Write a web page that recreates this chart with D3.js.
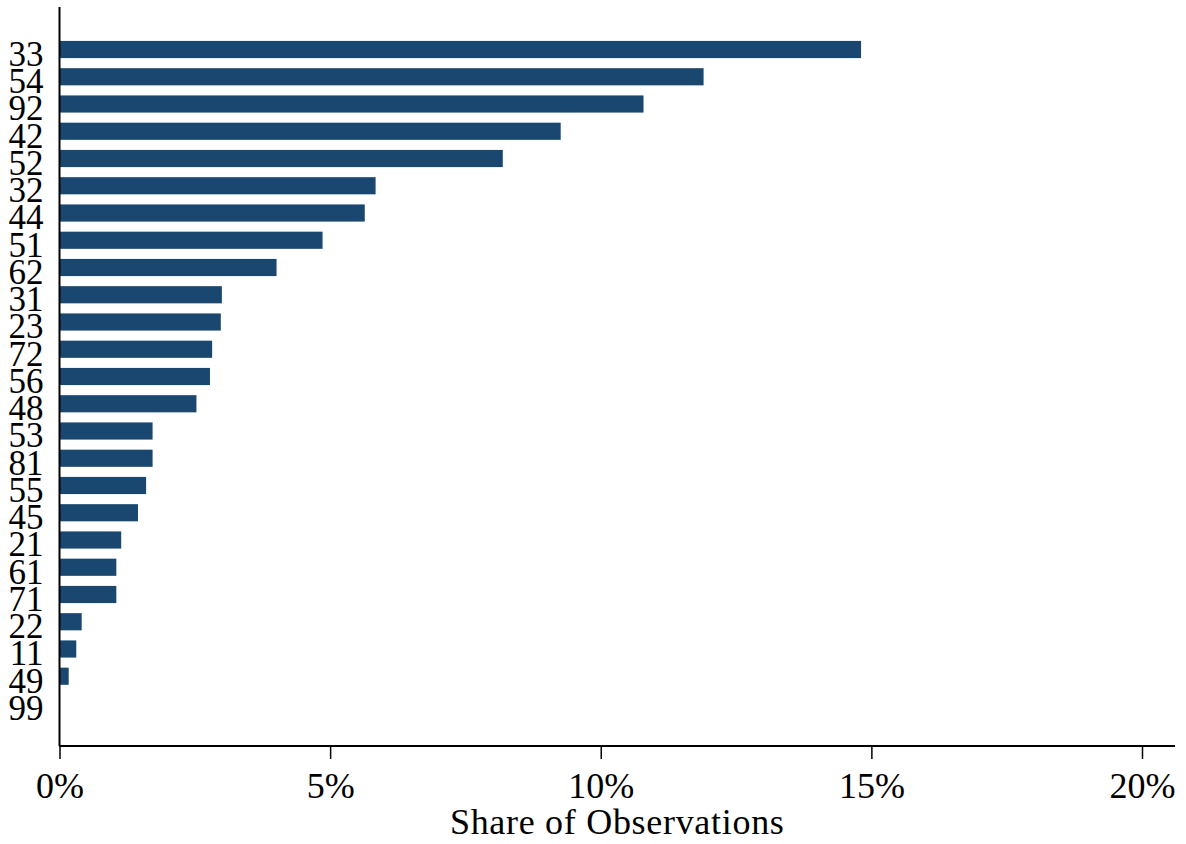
<!DOCTYPE html>
<html>
<head>
<meta charset="utf-8">
<script src="https://cdn.jsdelivr.net/npm/d3@7"></script>
<style>
  body { margin: 0; background: #fff; }
  text { font-family: "Liberation Serif", "DejaVu Serif", serif; fill: #000; }
</style>
</head>
<body>
<div id="chart"></div>
<script>
// Categories (top to bottom) and share of observations (%)
const categories = ['33', '54', '92', '42', '52', '32', '44', '51', '62', '31', '23', '72', '56',
  '48', '53', '81', '55', '45', '21', '61', '71', '22', '11', '49', '99'];
const shares = [14.81, 11.9, 10.79, 9.26, 8.19, 5.84, 5.64, 4.86, 4.01, 3.0, 2.98, 2.82, 2.78,
  2.53, 1.72, 1.72, 1.6, 1.45, 1.14, 1.05, 1.05, 0.41, 0.31, 0.17, 0.01];
const xTicks = [0, 5, 10, 15, 20];

const W = 1186;
const H = 844;
const margin = { t: 7, r: 11, b: 98, l: 59.5 };

const data = categories.map((c, i) => ({ c, v: shares[i] }));

const svg = d3.select('#chart')
  .append('svg')
  .attr('width', W)
  .attr('height', H);

const g = svg.append('g')
  .attr('transform', `translate(${margin.l}, ${margin.t})`);

const innerW = W - margin.l - margin.r;
const innerH = H - margin.t - margin.b;

// Scales
const scaleX = d3.scaleLinear().domain([0, 20]).range([0, 1082.5]);
const scaleY = d3.scaleBand()
  .domain(categories)
  .range([0, innerH])
  .paddingInner(0.37)
  .paddingOuter(1.245);

// Bars
g.selectAll('rect.bar')
  .data(data)
  .join('rect')
  .attr('class', 'bar')
  .attr('x', 0)
  .attr('y', d => scaleY(d.c))
  .attr('width', d => scaleX(d.v))
  .attr('height', scaleY.bandwidth())
  .attr('fill', '#1a476f');

// Axes
const xAxis = d3.axisBottom(scaleX)
  .tickValues(xTicks)
  .tickFormat(d => `${d}%`)
  .tickSizeInner(13)
  .tickSizeOuter(0)
  .tickPadding(13);

const gx = g.append('g')
  .attr('class', 'axis axis--x')
  .attr('transform', `translate(0, ${innerH})`)
  .call(xAxis);

gx.select('.domain').remove();
gx.append('line')
  .attr('x1', 0)
  .attr('x2', innerW)
  .attr('stroke', '#000')
  .attr('stroke-width', 2);
gx.selectAll('.tick line').attr('stroke', '#000').attr('stroke-width', 1.5);
gx.selectAll('.tick text')
  .attr('font-size', 36)
  .attr('fill', '#000')
  .attr('font-family', '"Liberation Serif", serif');

const yAxis = d3.axisLeft(scaleY)
  .tickSize(0)
  .tickPadding(16);

const gy = g.append('g')
  .attr('class', 'axis axis--y')
  .call(yAxis);

gy.select('.domain').remove();
gy.append('line')
  .attr('y1', 0)
  .attr('y2', innerH)
  .attr('stroke', '#000')
  .attr('stroke-width', 2);
gy.selectAll('.tick text')
  .attr('font-size', 35)
  .attr('dy', '0.47em')
  .attr('fill', '#000')
  .attr('font-family', '"Liberation Serif", serif');

// Axis title, centred on the whole x axis line
g.append('text')
  .attr('x', innerW / 2)
  .attr('y', innerH + 88)
  .attr('text-anchor', 'middle')
  .attr('font-size', 36)
  .attr('letter-spacing', 0.7)
  .text('Share of Observations');
</script>
</body>
</html>
